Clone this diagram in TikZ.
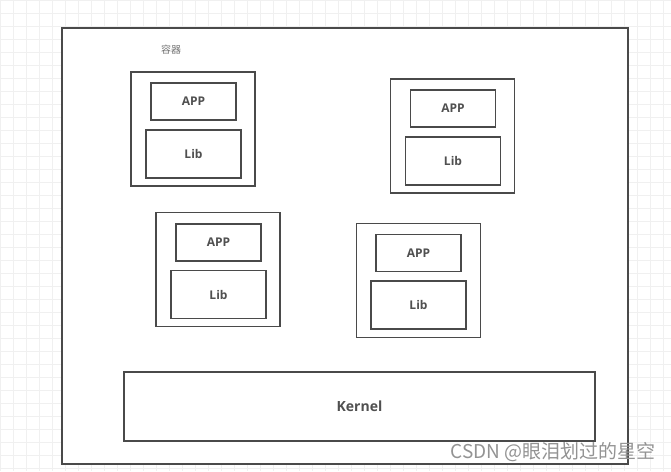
\documentclass[tikz,border=0pt]{standalone}
\usepackage{fontspec}
\setmainfont{Open Sans}
\newfontfamily\cjk{Noto Sans CJK SC}
\usepackage{tikz}
\usetikzlibrary{positioning}
\definecolor{linegray}{HTML}{4A4A4A}
\definecolor{textgray}{HTML}{505050}

\begin{document}
\begin{tikzpicture}[
  x=1pt, y=-1pt,
  frame/.style={rectangle, draw=linegray, line width=1.8pt, fill=white, inner sep=0pt},
  container/.style={frame, minimum width=124pt, minimum height=114pt},
  appbox/.style={frame, minimum width=85pt, minimum height=37pt, font=\bfseries\fontsize{12}{14}\selectfont, text=textgray},
  libbox/.style={frame, minimum width=95pt, minimum height=48pt, font=\bfseries\fontsize{12}{14}\selectfont, text=textgray}
]
  \useasboundingbox (0,0) rectangle (671,471);
  % background grid
  \foreach \gx in {0,13,...,671} \draw[gray!12, line width=0.6pt] (\gx,0) -- (\gx,471);
  \foreach \gy in {0,13,...,471} \draw[gray!12, line width=0.6pt] (0,\gy) -- (671,\gy);
  \node[frame, minimum width=566pt, minimum height=436pt] (host) at (345,246) {};
  \node[font=\cjk\fontsize{10}{11}\selectfont, text=gray!90!black] (lbl) at (171,50) {容器};

  % containers
  \node[container] (c1) at (193,129) {};
  \node[appbox] (app1) at (193.5,101.5) {APP};
  \node[libbox] (lib1) at (193.5,154) {Lib};

  \node[container] (c2) at (452.5,136) {};
  \node[appbox] (app2) at (453,108.5) {APP};
  \node[libbox] (lib2) at (453,161) {Lib};

  \node[container] (c3) at (218,269.5) {};
  \node[appbox] (app3) at (218.5,242.5) {APP};
  \node[libbox] (lib3) at (218.5,294.5) {Lib};

  \node[container] (c4) at (418.5,280.5) {};
  \node[appbox] (app4) at (418.5,253) {APP};
  \node[libbox] (lib4) at (418.5,305) {Lib};

  % kernel
  \node[frame, minimum width=471pt, minimum height=69pt, font=\bfseries\fontsize{14}{16}\selectfont, text=textgray] (kernel) at (359.5,406.5) {Kernel};

  % watermark
  \node[font=\cjk\fontsize{19}{21}\selectfont, text=gray!85, anchor=east, inner sep=0pt] (mark) at (656,452) {CSDN @眼泪划过的星空};
\end{tikzpicture}
\end{document}
